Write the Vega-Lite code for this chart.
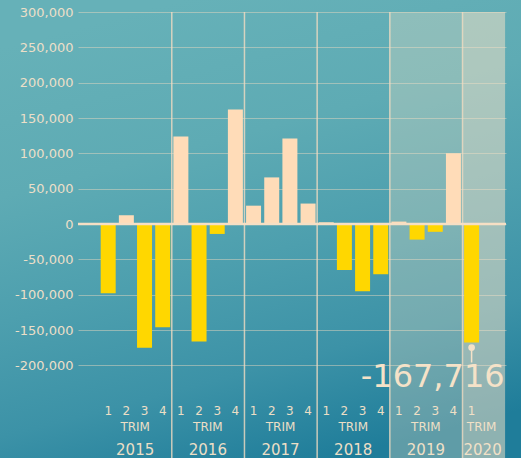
{
  "$schema": "https://vega.github.io/schema/vega-lite/v6.json",
  "width": 521,
  "height": 458,
  "autosize": {"type": "none"},
  "padding": 0,
  "background": "#4e9fae",
  "config": {
    "view": {
      "stroke": null,
      "fill": {
        "gradient": "linear",
        "x1": 0.35, "y1": 0, "x2": 0.65, "y2": 1,
        "stops": [
          {"offset": 0, "color": "#66b1b8"},
          {"offset": 0.3, "color": "#5eabb4"},
          {"offset": 0.55, "color": "#4d9fae"},
          {"offset": 0.78, "color": "#3c92a7"},
          {"offset": 1, "color": "#1f7d9a"}
        ]
      }
    },
    "locale": {"number": {"decimal": ".", "thousands": ",", "grouping": [3], "currency": ["$", ""], "minus": "-"}},
    "font": "DejaVu Sans"
  },
  "datasets": {
    "quarters": [
      {"q": "2015-1", "value": -98000},
      {"q": "2015-2", "value": 12500},
      {"q": "2015-3", "value": -175000},
      {"q": "2015-4", "value": -146000},
      {"q": "2016-1", "value": 124000},
      {"q": "2016-2", "value": -166000},
      {"q": "2016-3", "value": -14000},
      {"q": "2016-4", "value": 162000},
      {"q": "2017-1", "value": 26000},
      {"q": "2017-2", "value": 66000},
      {"q": "2017-3", "value": 121000},
      {"q": "2017-4", "value": 29000},
      {"q": "2018-1", "value": 2500},
      {"q": "2018-2", "value": -65000},
      {"q": "2018-3", "value": -95000},
      {"q": "2018-4", "value": -71000},
      {"q": "2019-1", "value": 3500},
      {"q": "2019-2", "value": -22000},
      {"q": "2019-3", "value": -11000},
      {"q": "2019-4", "value": 100000},
      {"q": "2020-1", "value": -167716}
    ]
  },
  "data": {"name": "quarters"},
  "resolve": {"axis": {"x": "independent"}},
  "layer": [
    {
      "data": {"values": [{}]},
      "mark": {"type": "rect", "fill": "#f5e3c8", "opacity": 0.3, "xOffset": -1.6, "x2Offset": -1.6},
      "encoding": {
        "x": {"datum": "2019-1", "type": "nominal", "bandPosition": 0, "scale": {"type": "band"}, "axis": null},
        "x2": {"datum": "2020-1", "bandPosition": 0},
        "y": {"datum": 300000, "type": "quantitative"},
        "y2": {"value": "height"}
      }
    },
    {
      "data": {"values": [{}]},
      "mark": {"type": "rect", "fill": "#f5e3c8", "opacity": 0.52, "xOffset": -1.6, "x2Offset": 26},
      "encoding": {
        "x": {"datum": "2020-1", "type": "nominal", "bandPosition": 0, "scale": {"type": "band"}, "axis": null},
        "x2": {"datum": "2020-1", "bandPosition": 1},
        "y": {"datum": 300000, "type": "quantitative"},
        "y2": {"value": "height"}
      }
    },
    {
      "transform": [{"filter": "test(/-1$/, datum.q) && datum.q != '2015-1'"}],
      "mark": {"type": "rule", "color": "#f2dcc2", "strokeWidth": 1.5, "opacity": 0.8, "xOffset": -1.6},
      "encoding": {
        "x": {
          "field": "q", "type": "nominal", "bandPosition": 0, "scale": {"type": "band"},
          "axis": {
            "orient": "bottom", "title": null, "offset": -37, "ticks": false, "domain": false,
            "labelPadding": 0, "labelAngle": 0,
            "labelExpr": "(split(datum.value, '-')[1] == '2' || datum.value == '2020-1') ? 'TRIM' : ''",
            "labelFontSize": 12, "labelColor": "#ecdfc6", "labelFont": "DejaVu Sans",
            "labelOffset": {"condition": {"test": "datum.value == '2020-1'", "value": 10}, "value": 8.8}
          }
        },
        "y": {"datum": 300000, "type": "quantitative"},
        "y2": {"value": "height"}
      }
    },
    {
      "mark": {"type": "bar"},
      "encoding": {
        "x": {
          "field": "q", "type": "nominal", "sort": null,
          "scale": {
            "type": "band",
            "domain": ["2015-1","2015-2","2015-3","2015-4","2016-1","2016-2","2016-3","2016-4","2017-1","2017-2","2017-3","2017-4","2018-1","2018-2","2018-3","2018-4","2019-1","2019-2","2019-3","2019-4","2020-1"],
            "range": [100.7, 479.1],
            "paddingInner": 0.175, "paddingOuter": 0
          },
          "axis": {
            "orient": "bottom", "title": null, "offset": -53, "ticks": false, "domain": false,
            "labelPadding": 0, "labelAngle": 0,
            "labelExpr": "split(datum.value, '-')[1]",
            "labelFontSize": 12, "labelColor": "#ecdfc6", "labelFont": "DejaVu Sans"
          }
        },
        "y": {
          "field": "value", "type": "quantitative",
          "scale": {"domain": [-331000, 317000], "nice": false, "zero": false},
          "axis": {
            "orient": "left", "title": null, "offset": -506, "grid": false, "domain": false,
            "ticks": true, "tickSize": 428, "tickColor": "#f2dcc2", "tickOpacity": 0.45, "tickWidth": 1,
            "labelPadding": 5, "labelFontSize": 13, "labelColor": "#ecdfc8", "labelFont": "DejaVu Sans",
            "values": [-200000, -150000, -100000, -50000, 0, 50000, 100000, 150000, 200000, 250000, 300000],
            "format": ",.0f"
          }
        },
        "color": {"condition": {"test": "datum.value < 0", "value": "#ffd700"}, "value": "#ffdcb8"}
      }
    },
    {
      "data": {"values": [{}]},
      "mark": {"type": "rule", "color": "#f6dfc4", "strokeWidth": 2.5, "xOffset": -22.7, "x2Offset": 26.9},
      "encoding": {
        "x": {"datum": "2015-1", "type": "nominal", "bandPosition": 0, "scale": {"type": "band"}, "axis": null},
        "x2": {"datum": "2020-1", "bandPosition": 1},
        "y": {"datum": 0, "type": "quantitative"}
      }
    },
    {
      "transform": [{"filter": "datum.q == '2020-1'"}],
      "mark": {"type": "point", "shape": "M0,0.25L0,1M-0.13,0.25A0.13,0.13,0,1,0,0.13,0.25A0.13,0.13,0,1,0,-0.13,0.25Z", "size": 1600, "filled": true, "color": "#f5e2c8", "stroke": "#f5e2c8", "strokeWidth": 1.5, "opacity": 1},
      "encoding": {
        "x": {"field": "q", "type": "nominal", "scale": {"type": "band"}, "axis": null},
        "y": {"field": "value", "type": "quantitative"}
      }
    },
    {
      "transform": [{"filter": "datum.q == '2020-1'"}],
      "mark": {"type": "text", "align": "right", "baseline": "alphabetic", "dx": 33, "dy": 44, "fontSize": 32, "font": "DejaVu Sans", "color": "#f5e2c8"},
      "encoding": {
        "x": {
          "field": "q", "type": "nominal", "scale": {"type": "band"},
          "axis": {
            "orient": "bottom", "title": null, "offset": -16, "ticks": false, "domain": false,
            "labelPadding": 0, "labelAngle": 0,
            "labelExpr": "(split(datum.value, '-')[1] == '2' || datum.value == '2020-1') ? split(datum.value, '-')[0] : ''",
            "labelFontSize": 15, "labelColor": "#ecdfc6", "labelFont": "DejaVu Sans",
            "labelOffset": {"condition": {"test": "datum.value == '2020-1'", "value": 11}, "value": 8.8}
          }
        },
        "y": {"field": "value", "type": "quantitative"},
        "text": {"field": "value", "type": "quantitative", "format": ","}
      }
    }
  ]
}
